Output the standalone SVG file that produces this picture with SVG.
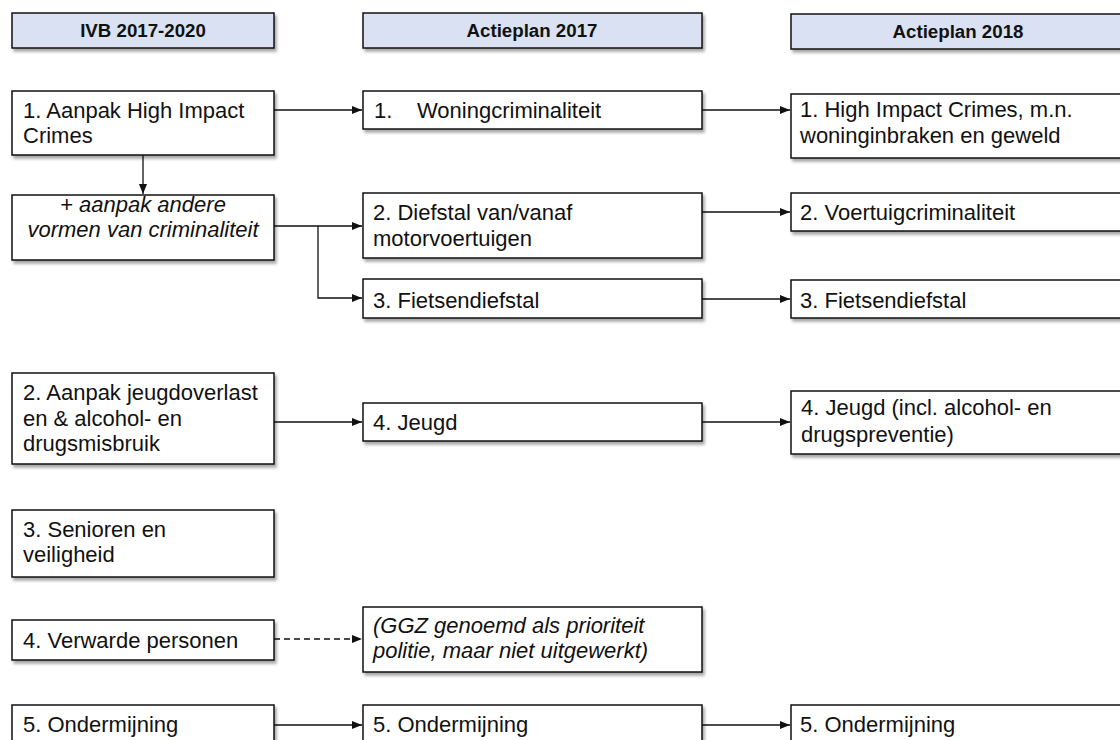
<svg xmlns="http://www.w3.org/2000/svg" width="1120" height="740" viewBox="0 0 1120 740">
<style>
.box{fill:#fff;stroke:#111;stroke-width:1.5;filter:url(#sh)}
.hdr{fill:#d9e1f2;stroke:#111;stroke-width:1.5;filter:url(#sh)}
.t{font-family:"Liberation Sans",Arial,sans-serif;font-size:22px;fill:#111}
.i{font-style:italic}
.h{font-family:"Liberation Sans",Arial,sans-serif;font-size:18.7px;font-weight:bold;fill:#111;text-anchor:middle}
.c{fill:none;stroke:#111;stroke-width:1.3}
.a{marker-end:url(#ah)}
.d{stroke-dasharray:6 4}
</style>
<defs>
<filter id="sh" x="-10%" y="-20%" width="130%" height="150%">
<feDropShadow dx="2" dy="3" stdDeviation="1.6" flood-color="#000" flood-opacity="0.35"/>
</filter>
<marker id="ah" viewBox="0 0 10 8" refX="10" refY="4" markerWidth="10" markerHeight="8" markerUnits="userSpaceOnUse" orient="auto">
<path d="M0,0 L10,4 L0,8 z" fill="#111"/>
</marker>
</defs>

<g id="hdr-ivb"><rect class="hdr" x="12" y="13" width="262" height="35"/><text class="h" x="143" y="37">IVB 2017-2020</text></g>
<g id="hdr-ap2017"><rect class="hdr" x="363" y="13" width="339" height="35"/><text class="h" x="532" y="37">Actieplan 2017</text></g>
<g id="hdr-ap2018"><rect class="hdr" x="791" y="14" width="339" height="35"/><text class="h" x="958" y="38">Actieplan 2018</text></g>

<g id="connectors">
<path class="c a" d="M274,110 H362"/>
<path class="c a" d="M702,110 H790"/>
<path class="c a" d="M143,155 V194"/>
<path class="c a" d="M274,226 H362"/>
<path class="c a" d="M318,226 V298 H362"/>
<path class="c a" d="M702,212 H790"/>
<path class="c a" d="M702,299 H790"/>
<path class="c a" d="M274,422 H362"/>
<path class="c a" d="M702,422 H790"/>
<path class="c a d" d="M274,639 H362"/>
<path class="c a" d="M274,725 H362"/>
<path class="c a" d="M702,725 H790"/>
</g>

<g id="ivb1"><rect class="box" x="12" y="91" width="262" height="64"/><text class="t" x="23" y="118">1. Aanpak High Impact</text><text class="t" x="23" y="143">Crimes</text></g>
<g id="ivb1b"><rect class="box" x="12" y="195" width="262" height="65"/><text class="t i" x="143" y="212" text-anchor="middle">+ aanpak andere</text><text class="t i" x="143" y="237" text-anchor="middle">vormen van criminaliteit</text></g>
<g id="ivb2"><rect class="box" x="12" y="373" width="262" height="91"/><text class="t" x="23" y="400">2. Aanpak jeugdoverlast</text><text class="t" x="23" y="426">en &amp; alcohol- en</text><text class="t" x="23" y="451">drugsmisbruik</text></g>
<g id="ivb3"><rect class="box" x="12" y="510" width="262" height="67"/><text class="t" x="23" y="537">3. Senioren en</text><text class="t" x="23" y="562">veiligheid</text></g>
<g id="ivb4"><rect class="box" x="12" y="620" width="262" height="40"/><text class="t" x="23" y="648">4. Verwarde personen</text></g>
<g id="ivb5"><rect class="box" x="12" y="705" width="262" height="50"/><text class="t" x="23" y="732">5. Ondermijning</text></g>

<g id="ap17-1"><rect class="box" x="363" y="91" width="339" height="38"/><text class="t" x="374" y="118">1.</text><text class="t" x="417" y="118">Woningcriminaliteit</text></g>
<g id="ap17-2"><rect class="box" x="363" y="193" width="339" height="65"/><text class="t" x="373" y="220">2. Diefstal van/vanaf</text><text class="t" x="373" y="246">motorvoertuigen</text></g>
<g id="ap17-3"><rect class="box" x="363" y="279" width="339" height="39"/><text class="t" x="373" y="308">3. Fietsendiefstal</text></g>
<g id="ap17-4"><rect class="box" x="363" y="403" width="339" height="38"/><text class="t" x="373" y="430">4. Jeugd</text></g>
<g id="ap17-ggz"><rect class="box" x="363" y="607" width="339" height="65"/><text class="t i" x="373" y="633">(GGZ genoemd als prioriteit</text><text class="t i" x="373" y="658">politie, maar niet uitgewerkt)</text></g>
<g id="ap17-5"><rect class="box" x="363" y="705" width="339" height="50"/><text class="t" x="373" y="732">5. Ondermijning</text></g>

<g id="ap18-1"><rect class="box" x="791" y="94" width="339" height="64"/><text class="t" x="800" y="117">1. High Impact Crimes, m.n.</text><text class="t" x="800" y="143">woninginbraken en geweld</text></g>
<g id="ap18-2"><rect class="box" x="791" y="193" width="339" height="38"/><text class="t" x="800" y="220">2. Voertuigcriminaliteit</text></g>
<g id="ap18-3"><rect class="box" x="791" y="280" width="339" height="38"/><text class="t" x="800" y="308">3. Fietsendiefstal</text></g>
<g id="ap18-4"><rect class="box" x="791" y="391" width="339" height="63"/><text class="t" x="801" y="415">4. Jeugd (incl. alcohol- en</text><text class="t" x="801" y="442">drugspreventie)</text></g>
<g id="ap18-5"><rect class="box" x="791" y="705" width="339" height="50"/><text class="t" x="800" y="732">5. Ondermijning</text></g>
</svg>
